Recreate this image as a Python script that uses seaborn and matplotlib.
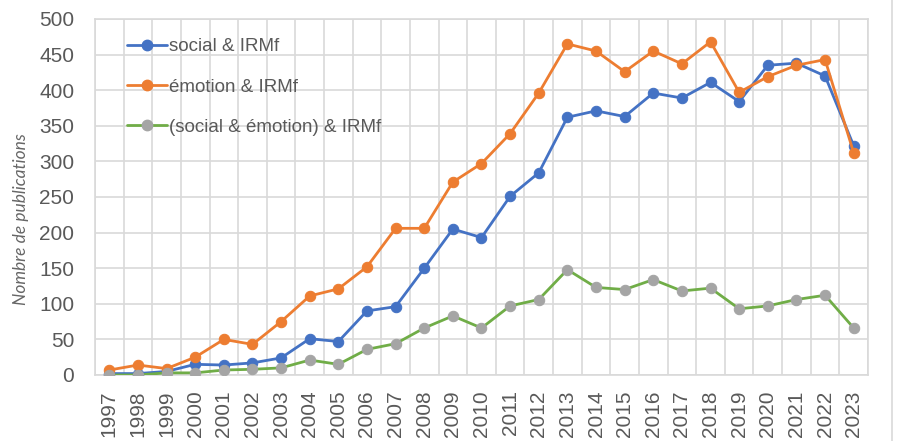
import numpy as np
import pandas as pd
import matplotlib
matplotlib.use("Agg")
import matplotlib.pyplot as plt
from matplotlib.lines import Line2D
import seaborn as sns

years = list(range(1997, 2024))
social = [2, 2, 5, 15, 14, 17, 24, 51, 47, 90, 96, 150, 205, 193, 251, 284,
          362, 371, 363, 396, 389, 411, 384, 435, 438, 420, 322]
emotion = [7, 14, 9, 25, 50, 43, 75, 111, 121, 152, 206, 206, 271, 297, 339, 396,
           465, 455, 426, 455, 437, 468, 397, 419, 435, 443, 312]
both = [0, 0, 3, 3, 7, 8, 10, 21, 15, 36, 44, 66, 83, 66, 97, 106,
        148, 123, 120, 134, 118, 122, 93, 97, 106, 112, 66]
labels = ["social & IRMf", "émotion & IRMf", "(social & émotion) & IRMf"]

df = pd.DataFrame({"year": years * 3,
                   "n": social + emotion + both,
                   "serie": [labels[0]] * 27 + [labels[1]] * 27 + [labels[2]] * 27})

sns.set_style("white")
plt.rcParams['font.family'] = ['Liberation Sans', 'DejaVu Sans']

fig = plt.figure(figsize=(8.99, 4.41), dpi=100)
ax = fig.add_axes([95 / 899, 1 - 375 / 441, (868 - 95) / 899, (375 - 19) / 441])

line_colors = ["#4472C4", "#ED7D31", "#70AD47"]
marker_colors = ["#4472C4", "#ED7D31", "#A5A5A5"]
for lab, lc, mc in zip(labels, line_colors, marker_colors):
    sns.lineplot(data=df[df["serie"] == lab], x="year", y="n", ax=ax,
                 color=lc, linewidth=2.0, marker="o", markersize=7.5,
                 markerfacecolor=mc, markeredgecolor=mc, legend=False, zorder=3)

ax.set_xlim(1996.5, 2023.5)
ax.set_ylim(0, 500)
ax.set_yticks(range(0, 501, 50))
ax.set_xticks(years)
ax.set_xticklabels([str(y) for y in years], rotation=90)
ax.set_xticks(np.arange(1996.5, 2024, 1.0), minor=True)
ax.grid(False)
ax.grid(True, axis="y", which="major", color="#D9D9D9", linewidth=1.2)
ax.grid(True, axis="x", which="minor", color="#D9D9D9", linewidth=1.2)
ax.tick_params(axis="both", which="both", length=0, labelsize=15, colors="#595959")
ax.tick_params(axis="y", pad=15)
ax.tick_params(axis="x", pad=11)
for s in ax.spines.values():
    s.set_color("#D9D9D9")
    s.set_linewidth(1.2)
ax.set_xlabel("")
ax.set_ylabel("Nombre de publications", fontsize=12.5, style="italic",
              color="#666666", family=["Lato", "DejaVu Sans"])
ax.yaxis.set_label_coords(21 / 899, 1 - 219 / 441, transform=fig.transFigure)
ax.yaxis.label.set_horizontalalignment("center")
ax.yaxis.label.set_verticalalignment("center")

handles = [Line2D([0], [0], color=lc, linewidth=2.0, marker="o", markersize=7.5,
                  markerfacecolor=mc, markeredgecolor=mc)
           for lc, mc in zip(line_colors, marker_colors)]
leg = fig.legend(handles, labels, loc="upper left", bbox_to_anchor=(127 / 899, 1 - 38 / 441),
                 frameon=False, fontsize=13.5, handlelength=2.15, handletextpad=0.1,
                 labelspacing=1.24, borderpad=0, borderaxespad=0)
for t in leg.get_texts():
    t.set_color("#595959")

fig.add_artist(Line2D([892 / 899, 892 / 899], [0, 1], transform=fig.transFigure,
                      color="#D9D9D9", linewidth=1.2))

fig.savefig("out.png", dpi=100)
